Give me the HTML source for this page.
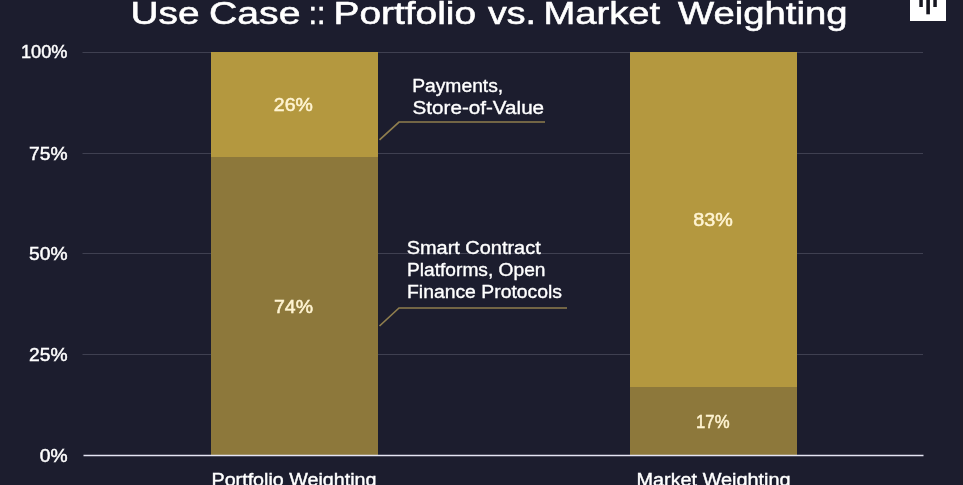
<!DOCTYPE html>
<html lang="en">
<head>
<meta charset="utf-8">
<title>Use Case :: Portfolio vs. Market Weighting</title>
<style>
  html, body { margin: 0; padding: 0; background: #1c1d2e; overflow: hidden; }
  body { width: 963px; height: 485px; position: relative; font-family: "Liberation Sans", sans-serif; }
  svg { position: absolute; left: 0; top: 0; display: block; }
  text { font-family: "Liberation Sans", sans-serif; fill: #ffffff; }
  .title { font-size: 30.5px; stroke: #ffffff; stroke-width: 0.55px; }
  .ax { font-size: 18px; text-anchor: end; stroke: #ffffff; stroke-width: 0.45px; }
  .lbl { font-size: 18px; stroke: #ffffff; stroke-width: 0.35px; }
  .val { font-size: 18px; fill: #fff4d2; text-anchor: middle; stroke: #fff4d2; stroke-width: 0.5px; }
  .cat { font-size: 18px; text-anchor: middle; stroke: #ffffff; stroke-width: 0.4px; }
  .grid { stroke: #3f4051; stroke-width: 1; }
  .axis { stroke: #e4e4f2; stroke-width: 1.6; }
  .lead { stroke: #8f7e4e; stroke-width: 1.7; fill: none; stroke-linejoin: miter; }
</style>
</head>
<body>
<svg width="963" height="485" viewBox="0 0 963 485">
  <rect x="0" y="0" width="963" height="485" fill="#1c1d2e"/>

  <rect x="960" y="0" width="3" height="485" fill="#1f1c2a"/>

  <!-- gridlines -->
  <line class="grid" x1="82.5" x2="923" y1="52.5" y2="52.5"/>
  <line class="grid" x1="82.5" x2="923" y1="153.5" y2="153.5"/>
  <line class="grid" x1="82.5" x2="923" y1="253.5" y2="253.5"/>
  <line class="grid" x1="82.5" x2="923" y1="354.5" y2="354.5"/>

  <!-- bars -->
  <rect x="211" y="52" width="167" height="105" fill="#b4983f"/>
  <rect x="211" y="157" width="167" height="298" fill="#8d783b"/>
  <rect x="630" y="52" width="167" height="335" fill="#b4983f"/>
  <rect x="630" y="387" width="167" height="68" fill="#8d783b"/>

  <!-- axis -->
  <line class="axis" x1="83.5" x2="923.5" y1="455.5" y2="455.5"/>

  <!-- title -->
  <text class="title" y="23.8"><tspan x="130.6" textLength="69" lengthAdjust="spacingAndGlyphs">Use</tspan> <tspan x="209" textLength="91.5" lengthAdjust="spacingAndGlyphs">Case</tspan> <tspan x="308.5" textLength="17" lengthAdjust="spacingAndGlyphs">::</tspan> <tspan x="333.5" textLength="142.6" lengthAdjust="spacingAndGlyphs">Portfolio</tspan> <tspan x="488" textLength="48" lengthAdjust="spacingAndGlyphs">vs.</tspan> <tspan x="543.5" textLength="116.7" lengthAdjust="spacingAndGlyphs">Market</tspan> <tspan x="678" textLength="169.5" lengthAdjust="spacingAndGlyphs">Weighting</tspan></text>

  <!-- y axis labels -->
  <text class="ax" x="67.5" y="58" textLength="46.5" lengthAdjust="spacingAndGlyphs">100%</text>
  <text class="ax" x="67.5" y="159.5" textLength="38.5" lengthAdjust="spacingAndGlyphs">75%</text>
  <text class="ax" x="67.5" y="260.3" textLength="38.5" lengthAdjust="spacingAndGlyphs">50%</text>
  <text class="ax" x="67.5" y="361.2" textLength="38.5" lengthAdjust="spacingAndGlyphs">25%</text>
  <text class="ax" x="67.5" y="462.4" textLength="27.8" lengthAdjust="spacingAndGlyphs">0%</text>

  <!-- values -->
  <text class="val" x="293.3" y="111" textLength="39" lengthAdjust="spacingAndGlyphs">26%</text>
  <text class="val" x="293.5" y="313" textLength="39" lengthAdjust="spacingAndGlyphs">74%</text>
  <text class="val" x="713" y="226.3" textLength="39.5" lengthAdjust="spacingAndGlyphs">83%</text>
  <text class="val" x="712.8" y="428" textLength="33.5" lengthAdjust="spacingAndGlyphs">17%</text>

  <!-- annotations -->
  <text class="lbl" x="412.2" y="91.8" textLength="91" lengthAdjust="spacingAndGlyphs">Payments,</text>
  <text class="lbl" x="412.6" y="113.9" textLength="131.5" lengthAdjust="spacingAndGlyphs">Store-of-Value</text>
  <polyline class="lead" points="379.5,139.8 399,122 545,122"/>

  <text class="lbl" x="406.7" y="254" textLength="134" lengthAdjust="spacingAndGlyphs">Smart Contract</text>
  <text class="lbl" x="407" y="276.2" textLength="138.5" lengthAdjust="spacingAndGlyphs">Platforms, Open</text>
  <text class="lbl" x="407" y="298.3" textLength="155" lengthAdjust="spacingAndGlyphs">Finance Protocols</text>
  <polyline class="lead" points="379.5,326 399,308 567,308"/>

  <!-- category labels -->
  <text class="cat" x="294" y="485.5" textLength="165" lengthAdjust="spacingAndGlyphs">Portfolio Weighting</text>
  <text class="cat" x="713.5" y="485.5" textLength="154" lengthAdjust="spacingAndGlyphs">Market Weighting</text>

  <!-- logo -->
  <rect x="910" y="0" width="36" height="21" fill="#ffffff"/>
  <rect x="919.3" y="0" width="3.5" height="7" fill="#15151f"/>
  <rect x="926.3" y="0" width="3.6" height="14.3" fill="#15151f"/>
  <rect x="933.3" y="0" width="3.5" height="7" fill="#15151f"/>
</svg>
</body>
</html>
